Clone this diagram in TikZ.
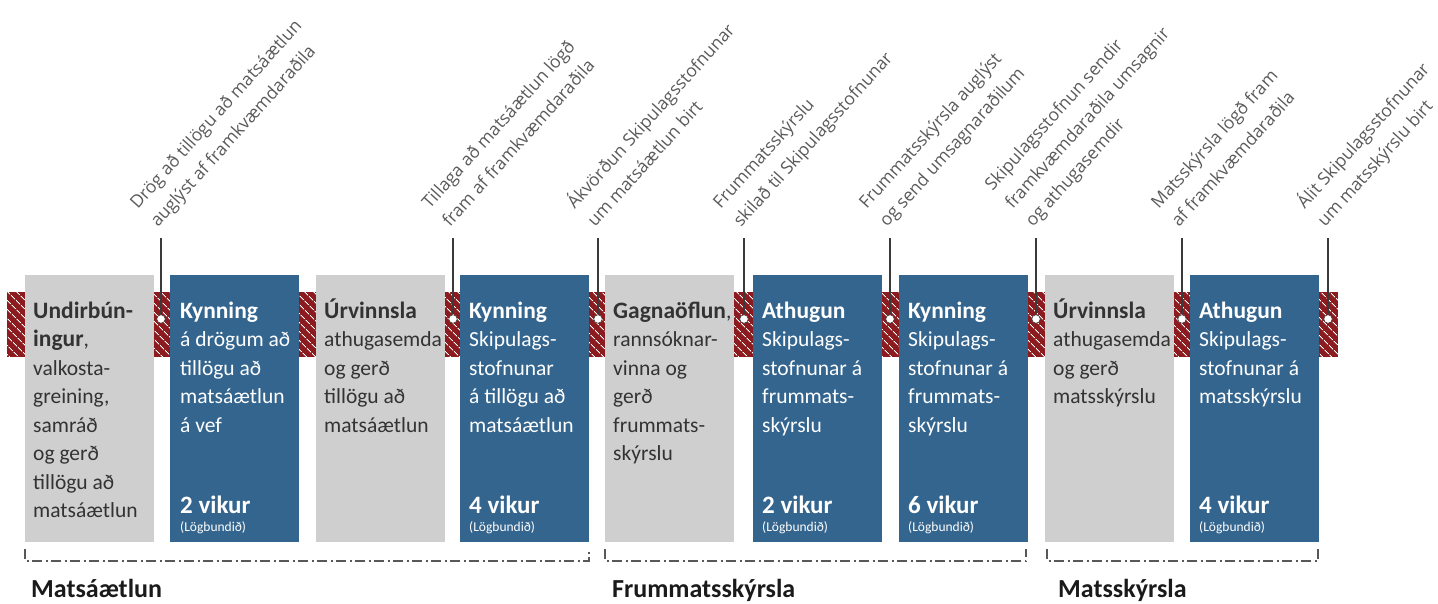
\documentclass[tikz,border=0pt]{standalone}
\usepackage{fontspec}
\setmainfont{Carlito}
\newfontfamily\labfont{Open Sans}
\usetikzlibrary{patterns.meta}
\definecolor{boxblue}{HTML}{34658E}
\definecolor{boxgray}{HTML}{CFCFCF}
\definecolor{hatchred}{HTML}{8C1B1F}
\definecolor{linegray}{HTML}{3A3A3A}
\definecolor{labgray}{HTML}{5A5A5A}
\definecolor{txtdark}{HTML}{333333}
\definecolor{titledark}{HTML}{1A1A1A}
\newcommand{\btxt}[1]{\begin{tabular}[t]{@{}l@{}}#1\end{tabular}}
\newcommand{\hd}[1]{{\fontsize{23.5}{28.5}\selectfont\bfseries #1}}
\newcommand{\ltxt}[1]{\begin{tabular}[b]{@{}l@{}}#1\end{tabular}}
\begin{document}
\begin{tikzpicture}[x=1pt,y=-1pt,
  phase/.style={anchor=north west, minimum width=129pt, minimum height=267pt, inner sep=0pt, outer sep=0pt},
  grayphase/.style={phase, fill=boxgray},
  bluephase/.style={phase, fill=boxblue},
  graytext/.style={anchor=base west, inner sep=0pt, text=txtdark, font=\fontsize{21.5}{28.5}\selectfont},
  bluetext/.style={anchor=base west, inner sep=0pt, text=white, font=\fontsize{21.5}{28.5}\selectfont},
  weeks/.style={anchor=base west, inner sep=0pt, text=white, font=\fontsize{25}{25}\selectfont\bfseries},
  lawnote/.style={anchor=base west, inner sep=0pt, text=white, font=\fontsize{13.5}{14}\selectfont},
  pin/.style={circle, fill=white, draw=linegray, line width=0.6pt, minimum size=8.5pt, inner sep=0pt},
  leader/.style={draw=linegray, line width=1.1pt},
  lab/.style={anchor=base west, rotate=48, inner sep=0pt, text=labgray, font=\labfont\fontsize{17.5}{27.2}\selectfont},
  bracket/.style={draw=linegray!85, line width=1.2pt, dash pattern=on 10pt off 3.5pt on 2pt off 3.5pt},
  title/.style={anchor=base west, inner sep=0pt, text=titledark, font=\fontsize{26}{26}\selectfont\bfseries}
]
\useasboundingbox (0,0) rectangle (1438,604);

% hatched band
\path[fill=hatchred] (7,292) rectangle (1338,357);
\path[pattern={Lines[angle=-45,distance=6.5pt,line width=1.1pt]}, pattern color=white] (7,292) rectangle (1338,357);

% phase boxes
\node[grayphase] (b1) at (25,275) {};
\node[bluephase] (b2) at (170,275) {};
\node[grayphase] (b3) at (316,275) {};
\node[bluephase] (b4) at (460,275) {};
\node[grayphase] (b5) at (605,275) {};
\node[bluephase] (b6) at (753,275) {};
\node[bluephase] (b7) at (899,275) {};
\node[grayphase] (b8) at (1045,275) {};
\node[bluephase] (b9) at (1190,275) {};

% box texts
\node[graytext] (t1) at ([xshift=8pt,yshift=-43pt]b1.north west) {\btxt{\hd{Undirbún-}\\\hd{ingur},\\valkosta-\\greining,\\samráð\\og gerð\\tillögu að\\matsáætlun}};
\node[bluetext] (t2) at ([xshift=10pt,yshift=-43pt]b2.north west) {\btxt{\hd{Kynning}\\á drögum að\\tillögu að\\matsáætlun\\á vef}};
\node[graytext] (t3) at ([xshift=8pt,yshift=-43pt]b3.north west) {\btxt{\hd{Úrvinnsla}\\athugasemda\\og gerð\\tillögu að\\matsáætlun}};
\node[bluetext] (t4) at ([xshift=9pt,yshift=-43pt]b4.north west) {\btxt{\hd{Kynning}\\Skipulags-\\stofnunar\\á tillögu að\\matsáætlun}};
\node[graytext] (t5) at ([xshift=8pt,yshift=-43pt]b5.north west) {\btxt{\hd{Gagnaöflun},\\rannsóknar-\\vinna og\\gerð\\frummats-\\skýrslu}};
\node[bluetext] (t6) at ([xshift=9pt,yshift=-43pt]b6.north west) {\btxt{\hd{Athugun}\\Skipulags-\\stofnunar á\\frummats-\\skýrslu}};
\node[bluetext] (t7) at ([xshift=9pt,yshift=-43pt]b7.north west) {\btxt{\hd{Kynning}\\Skipulags-\\stofnunar á\\frummats-\\skýrslu}};
\node[graytext] (t8) at ([xshift=8pt,yshift=-43pt]b8.north west) {\btxt{\hd{Úrvinnsla}\\athugasemda\\og gerð\\matsskýrslu}};
\node[bluetext] (t9) at ([xshift=9pt,yshift=-43pt]b9.north west) {\btxt{\hd{Athugun}\\Skipulags-\\stofnunar á\\matsskýrslu}};

% durations
\node[weeks] (w2) at ([xshift=10pt,yshift=-238pt]b2.north west) {2 vikur};
\node[lawnote] (n2) at ([xshift=10pt,yshift=-256pt]b2.north west) {(Lögbundið)};
\node[weeks] (w4) at ([xshift=9pt,yshift=-238pt]b4.north west) {4 vikur};
\node[lawnote] (n4) at ([xshift=9pt,yshift=-256pt]b4.north west) {(Lögbundið)};
\node[weeks] (w6) at ([xshift=9pt,yshift=-238pt]b6.north west) {2 vikur};
\node[lawnote] (n6) at ([xshift=9pt,yshift=-256pt]b6.north west) {(Lögbundið)};
\node[weeks] (w7) at ([xshift=9pt,yshift=-238pt]b7.north west) {6 vikur};
\node[lawnote] (n7) at ([xshift=9pt,yshift=-256pt]b7.north west) {(Lögbundið)};
\node[weeks] (w9) at ([xshift=9pt,yshift=-238pt]b9.north west) {4 vikur};
\node[lawnote] (n9) at ([xshift=9pt,yshift=-256pt]b9.north west) {(Lögbundið)};

% milestone pins and leaders
\foreach \i/\x in {1/161,2/453,3/598,4/744,5/890,6/1036,7/1182,8/1328}{
  \coordinate (p\i) at (\x,238);
  \node[pin] (c\i) at (\x,319) {};
  \draw[leader] (c\i.north) -- (p\i);
}

% milestone labels
\node[lab] (l1) at ([xshift=-3pt,yshift=10pt]p1) {\ltxt{Drög að tillögu að matsáætlun\\auglýst af framkvæmdaraðila}};
\node[lab] (l2) at ([xshift=-3pt,yshift=10pt]p2) {\ltxt{Tillaga að matsáætlun lögð\\fram af framkvæmdaraðila}};
\node[lab] (l3) at ([xshift=-3pt,yshift=10pt]p3) {\ltxt{Ákvörðun Skipulagsstofnunar\\um matsáætlun birt}};
\node[lab] (l4) at ([xshift=-3pt,yshift=10pt]p4) {\ltxt{Frummatsskýrslu\\skilað til Skipulagsstofnunar}};
\node[lab] (l5) at ([xshift=-3pt,yshift=10pt]p5) {\ltxt{Frummatsskýrsla auglýst\\og send umsagnaraðilum}};
\node[lab] (l6) at ([xshift=-3pt,yshift=10pt]p6) {\ltxt{Skipulagsstofnun sendir\\framkvæmdaraðila umsagnir\\og athugasemdir}};
\node[lab] (l7) at ([xshift=-3pt,yshift=10pt]p7) {\ltxt{Matsskýrsla lögð fram\\af framkvæmdaraðila}};
\node[lab] (l8) at ([xshift=-3pt,yshift=10pt]p8) {\ltxt{Álit Skipulagsstofnunar\\um matsskýrslu birt}};

% phase brackets
\coordinate (k1a) at (25,549); \coordinate (k1b) at (25,561);
\coordinate (k1c) at (589,561); \coordinate (k1d) at (589,549);
\coordinate (k2a) at (605,549); \coordinate (k2b) at (605,561);
\coordinate (k2c) at (1026,561); \coordinate (k2d) at (1026,549);
\coordinate (k3a) at (1047,549); \coordinate (k3b) at (1047,561);
\coordinate (k3c) at (1318,561); \coordinate (k3d) at (1318,549);
\draw[bracket] (k1a) -- (k1b) -- (k1c) -- (k1d);
\draw[bracket] (k2a) -- (k2b) -- (k2c) -- (k2d);
\draw[bracket] (k3a) -- (k3b) -- (k3c) -- (k3d);

% phase titles
\node[title] (s1) at (31,597) {Matsáætlun};
\node[title] (s2) at (612,597) {Frummatsskýrsla};
\node[title] (s3) at (1058,597) {Matsskýrsla};
\end{tikzpicture}
\end{document}
